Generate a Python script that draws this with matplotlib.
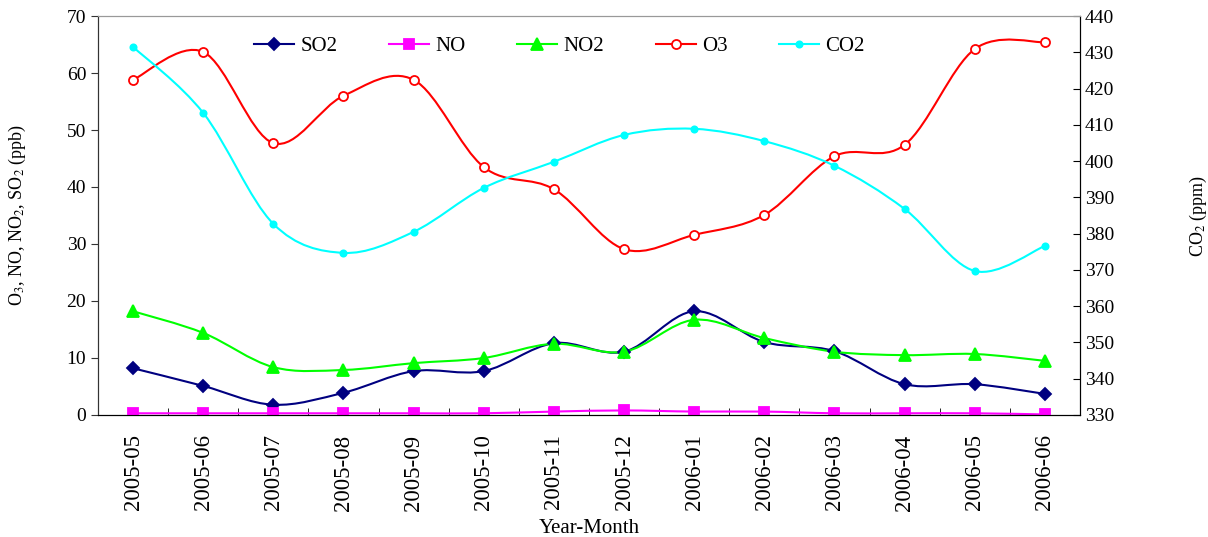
import matplotlib
matplotlib.use("Agg")
import matplotlib.pyplot as plt
import numpy as np
from matplotlib.path import Path
from matplotlib.patches import PathPatch
from matplotlib.lines import Line2D

plt.rcParams['font.family'] = ['Liberation Serif', 'DejaVu Serif']
plt.rcParams['mathtext.fontset'] = 'stix'

months = ["2005-05", "2005-06", "2005-07", "2005-08", "2005-09", "2005-10",
          "2005-11", "2005-12", "2006-01", "2006-02", "2006-03", "2006-04",
          "2006-05", "2006-06"]

so2 = [8.2, 5.1, 1.8, 3.9, 7.7, 7.7, 12.6, 11.1, 18.2, 12.8, 11.2, 5.4, 5.4, 3.7]
no = [0.3, 0.3, 0.3, 0.3, 0.3, 0.3, 0.6, 0.8, 0.6, 0.6, 0.3, 0.3, 0.3, 0.1]
no2 = [18.2, 14.4, 8.4, 7.9, 9.1, 10.0, 12.5, 11.1, 16.7, 13.5, 11.1, 10.5, 10.7, 9.5]
o3 = [58.8, 63.7, 47.7, 56.0, 58.8, 43.5, 39.6, 29.1, 31.6, 35.1, 45.4, 47.4, 64.2, 65.4]
co2 = [431.5, 413.3, 382.7, 374.7, 380.5, 392.6, 399.8, 407.2, 408.9, 405.5,
       398.7, 386.8, 369.7, 376.6]


def smooth_path(xs, ys):
    # Excel-style smoothed line: cubic bezier through the points
    p = np.column_stack([xs, ys]).astype(float)
    n = len(p)
    verts = [p[0]]
    codes = [Path.MOVETO]
    for i in range(n - 1):
        p0 = p[max(i - 1, 0)]
        p3 = p[min(i + 2, n - 1)]
        c1 = p[i] + (p[i + 1] - p0) / 6.0
        c2 = p[i + 1] - (p3 - p[i]) / 6.0
        verts += [c1, c2, p[i + 1]]
        codes += [Path.CURVE4] * 3
    return Path(verts, codes)


def draw(ax, ys, color, marker, ms, mfc=None, lw=1.5):
    xs = np.arange(len(ys))
    ax.add_patch(PathPatch(smooth_path(xs, ys), facecolor='none',
                           edgecolor=color, lw=lw, zorder=2))
    ax.plot(xs, ys, ls='none', marker=marker, ms=ms, color=color,
            mfc=mfc if mfc else color, mec=color, mew=1.3, zorder=3)
    return Line2D([], [], color=color, lw=lw, marker=marker, ms=ms,
                  mfc=mfc if mfc else color, mec=color, mew=1.3)


fig = plt.figure(figsize=(12.08, 5.37), dpi=100)
ax = fig.add_axes([0.0811, 0.2272, 0.8129, 0.743])
ax2 = ax.twinx()

h1 = draw(ax, so2, '#000080', 'D', 6)
h2 = draw(ax, no, '#FF00FF', 's', 7.5)
h3 = draw(ax, no2, '#00FF00', '^', 8.5)
h4 = draw(ax, o3, '#FF0000', 'o', 6.5, mfc='white')
h5 = draw(ax2, co2, '#00FFFF', 'o', 4.5)

ax.set_xlim(-0.5, len(months) - 0.5)
ax.set_ylim(0, 70)
ax2.set_ylim(330, 440)
ax.set_yticks(np.arange(0, 71, 10))
ax2.set_yticks(np.arange(330, 441, 10))

ax.set_xticks(np.arange(len(months)))
ax.set_xticklabels(months, rotation=90, fontsize=16.5)
ax.set_xticks(np.arange(len(months) + 1) - 0.5, minor=True)
ax.tick_params(axis='x', which='major', length=0, pad=14)
ax.tick_params(axis='x', which='minor', direction='in', length=5)
ax.tick_params(axis='y', direction='out', length=5, labelsize=14, colors='#333333')
ax.tick_params(axis='y', labelcolor='black')
ax2.tick_params(axis='y', direction='in', length=5, labelsize=14)

ax.spines['top'].set_color('#999999')
ax2.spines['top'].set_color('#999999')
ax.spines['left'].set_color('#333333')
ax2.spines['left'].set_color('#333333')

ax.set_ylabel('O$_3$, NO, NO$_2$, SO$_2$ (ppb)', fontsize=13)
ax.yaxis.set_label_coords(-0.071, 0.5)
ax2.set_ylabel('CO$_2$ (ppm)', fontsize=13)
ax2.yaxis.set_label_coords(1.110, 0.5)
ax.set_xlabel('Year-Month', fontsize=15)
ax.xaxis.set_label_coords(0.5, -0.26)

ax.legend([h1, h2, h3, h4, h5], ['SO2', 'NO', 'NO2', 'O3', 'CO2'],
          loc='upper center', bbox_to_anchor=(0.47, 0.995), ncol=5,
          frameon=False, fontsize=15, handlelength=1.9, columnspacing=2.5,
          handletextpad=0.3)

fig.savefig('out.png', dpi=100)
